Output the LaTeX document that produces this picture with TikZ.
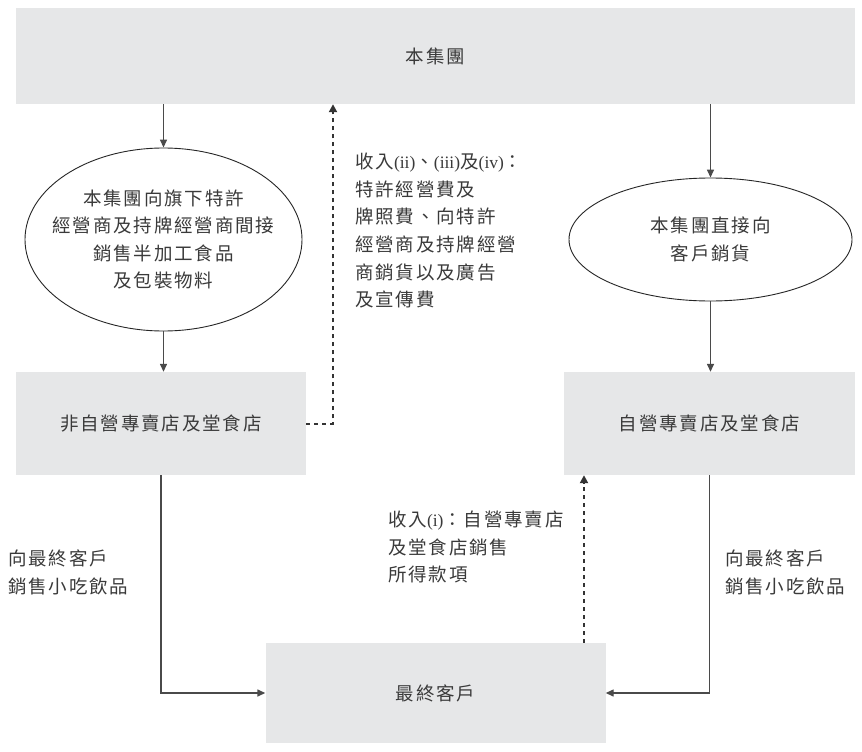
\documentclass[tikz,border=0pt]{standalone}
\usepackage{fontspec}
\setmainfont{Liberation Serif}
\newfontfamily\cjk[LetterSpace=10]{Noto Sans CJK TC}
\usetikzlibrary{shapes.geometric,arrows.meta}
\definecolor{boxgray}{HTML}{E6E7E8}
\definecolor{txt}{HTML}{3A3A3A}
\definecolor{lin}{HTML}{4A4A4A}
\newcommand\lat[1]{{\rmfamily\fontsize{17.5}{20}\selectfont #1}}
\begin{document}
\begin{tikzpicture}[x=1pt,y=-1pt,
  every node/.style={font=\cjk\fontsize{18.5}{27.6}\selectfont, text=txt, inner sep=0pt},
  graybox/.style={rectangle, fill=boxgray, draw=none},
  oval/.style={ellipse, draw=black!85, line width=0.9pt},
  arr/.style={draw=lin, line width=1.4pt, -{Triangle[length=8pt,width=7pt]}},
  darr/.style={draw=black!80, line width=2pt, dash pattern=on 4pt off 4pt, -{Triangle[length=8pt,width=8pt]}},
  lbl/.style={align=left, anchor=north west}]
\useasboundingbox (0,0) rectangle (862,752);
\fill[white] (0,0) rectangle (862,752);

\node[graybox, minimum width=839pt, minimum height=96pt] (top) at (435.5,56) {本集團};
\node[oval, minimum width=277pt, minimum height=183pt] (lell) at (163.5,239.5) {};
\node[align=center] (lelltxt) at (lell.center) {本集團向旗下特許\\經營商及持牌經營商間接\\銷售半加工食品\\及包裝物料};
\node[oval, minimum width=283pt, minimum height=123pt] (rell) at (710.5,239.5) {};
\node[align=center] (relltxt) at (rell.center) {本集團直接向\\客戶銷貨};
\node[graybox, minimum width=290pt, minimum height=103pt] (lbox) at (161,423.5) {非自營專賣店及堂食店};
\node[graybox, minimum width=291pt, minimum height=103pt] (rbox) at (709.5,423.5) {自營專賣店及堂食店};
\node[graybox, minimum width=340pt, minimum height=100pt] (bbox) at (435.5,693) {最終客戶};

\node[lbl] (mlab) at (355,153) {收入\lat{(ii)}、\lat{(iii)}及\lat{(iv)}：\\特許經營費及\\牌照費、向特許\\經營商及持牌經營\\商銷貨以及廣告\\及宣傳費};
\node[lbl] (blab) at (388,511) {收入\lat{(i)}：自營專賣店\\及堂食店銷售\\所得款項};
\node[lbl] (llab) at (8,550) {向最終客戶\\銷售小吃飲品};
\node[lbl] (rlab) at (725,550) {向最終客戶\\銷售小吃飲品};

\coordinate (dx) at (333,0);
\coordinate (ux) at (584,0);

\draw[arr] (lell.north |- top.south) -- (lell.north);
\draw[arr] (lell.south) -- (lell.south |- lbox.north);
\draw[arr] (rell.north |- top.south) -- (rell.north);
\draw[arr] (rell.south) -- (rell.south |- rbox.north);
\draw[arr] (lbox.south) |- (bbox.west);
\draw[arr] (rbox.south) |- (bbox.east);
\draw[darr] (lbox.east) -- (lbox.east -| dx) -- (dx |- top.south);
\draw[darr] (bbox.north -| ux) -- (rbox.south -| ux);
\end{tikzpicture}
\end{document}
